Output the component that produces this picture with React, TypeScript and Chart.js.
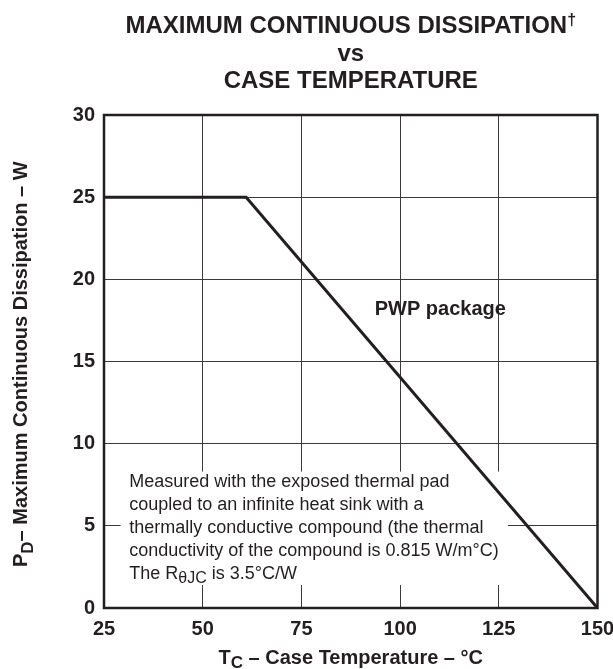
import React, { useEffect, useRef } from "react";
import { Chart, registerables } from "chart.js";

Chart.register(...registerables);

const caseTemps = [25, 61, 150];
const dissipation = [25, 25, 0];
const xTicks = [25, 50, 75, 100, 125, 150];
const yTicks = [0, 5, 10, 15, 20, 25, 30];
const titleLines = ["MAXIMUM CONTINUOUS DISSIPATION", "vs", "CASE TEMPERATURE"];
const noteLines = [
  "Measured with the exposed thermal pad",
  "coupled to an infinite heat sink with a",
  "thermally conductive compound (the thermal",
  "conductivity of the compound is 0.815 W/m°C)",
];
const seriesLabel = "PWP package";

const FAM = '"Liberation Sans", Arial, Helvetica, sans-serif';
const INK = "#231f20";

type Run = { t: string; f: string; dy?: number };

function drawRuns(ctx: CanvasRenderingContext2D, x: number, y: number, runs: Run[], align: "left" | "center") {
  let total = 0;
  for (const r of runs) {
    ctx.font = r.f;
    total += ctx.measureText(r.t).width;
  }
  let cx = align === "center" ? x - total / 2 : x;
  ctx.textAlign = "left";
  for (const r of runs) {
    ctx.font = r.f;
    ctx.fillText(r.t, cx, y + (r.dy || 0));
    cx += ctx.measureText(r.t).width;
  }
}

const noteBox = {
  id: "noteBox",
  beforeDatasetsDraw(chart: any) {
    const ctx: CanvasRenderingContext2D = chart.ctx;
    const xs = chart.scales.x;
    const ys = chart.scales.y;
    ctx.save();
    ctx.fillStyle = "#fff";
    const l = xs.getPixelForValue(29.2);
    const r = xs.getPixelForValue(127.3);
    const t = ys.getPixelForValue(8.3);
    const b = ys.getPixelForValue(1.4);
    ctx.fillRect(l, t, r - l, b - t);
    ctx.fillStyle = INK;
    ctx.textBaseline = "alphabetic";
    const nf = `18px ${FAM}`;
    const lx = xs.getPixelForValue(31.4);
    let ly = ys.getPixelForValue(7.38);
    ctx.textAlign = "left";
    for (const line of noteLines) {
      ctx.font = nf;
      ctx.fillText(line, lx, ly);
      ly += 23;
    }
    drawRuns(ctx, lx, ly, [
      { t: "The R", f: nf },
      { t: "θJC", f: `16px ${FAM}`, dy: 4 },
      { t: " is 3.5°C/W", f: nf },
    ], "left");
    ctx.restore();
  },
};

const overlay = {
  id: "overlay",
  afterDraw(chart: any) {
    const ctx: CanvasRenderingContext2D = chart.ctx;
    const a = chart.chartArea;
    const xs = chart.scales.x;
    const ys = chart.scales.y;
    ctx.save();
    ctx.strokeStyle = INK;
    ctx.lineWidth = 2.5;
    ctx.strokeRect(a.left, a.top, a.right - a.left, a.bottom - a.top);

    ctx.fillStyle = INK;
    ctx.textBaseline = "alphabetic";
    const cx = (a.left + a.right) / 2;
    const tf = `bold 24px ${FAM}`;
    drawRuns(ctx, cx, 33, [{ t: titleLines[0], f: tf }, { t: "†", f: `bold 16px ${FAM}`, dy: -8 }], "center");
    drawRuns(ctx, cx, 61, [{ t: titleLines[1], f: tf }], "center");
    drawRuns(ctx, cx, 88, [{ t: titleLines[2], f: tf }], "center");

    const af = `bold 20px ${FAM}`;
    const sf = `bold 17px ${FAM}`;
    drawRuns(ctx, cx, 664, [
      { t: "T", f: af },
      { t: "C", f: sf, dy: 4 },
      { t: " – Case Temperature – °C", f: af },
    ], "center");

    ctx.save();
    ctx.translate(27, 567);
    ctx.rotate(-Math.PI / 2);
    drawRuns(ctx, 0, 0, [
      { t: "P", f: af },
      { t: "D", f: sf, dy: 6 },
      { t: "– Maximum Continuous Dissipation – W", f: af },
    ], "left");
    ctx.restore();

    ctx.font = `bold 20px ${FAM}`;
    ctx.textAlign = "right";
    ctx.fillText(seriesLabel, xs.getPixelForValue(126.8), ys.getPixelForValue(17.83));
    ctx.restore();
  },
};

export default function App() {
  const ref = useRef<HTMLCanvasElement | null>(null);
  useEffect(() => {
    document.body.style.margin = "0";
    const canvas = ref.current!;
    const zeroPad = (s: any) => {
      s.paddingLeft = 0;
      s.paddingRight = 0;
      s.paddingTop = 0;
      s.paddingBottom = 0;
    };
    const chart = new Chart(canvas, {
      type: "scatter",
      data: {
        datasets: [
          {
            label: seriesLabel,
            data: caseTemps.map((x, i) => ({ x, y: dissipation[i] })),
            showLine: true,
            borderColor: INK,
            borderWidth: 3,
            pointRadius: 0,
            fill: false,
          },
        ],
      },
      options: {
        responsive: false,
        animation: false,
        layout: { padding: { left: 0, right: 15.5, top: 115, bottom: 0 } },
        plugins: { legend: { display: false }, tooltip: { enabled: false }, title: { display: false } },
        scales: {
          x: {
            type: "linear",
            min: 25,
            max: 150,
            afterFit: (s: any) => { s.height = 61; zeroPad(s); },
            afterBuildTicks: (s: any) => { s.ticks = xTicks.map((v) => ({ value: v })); },
            grid: { color: "#3a3a3a", lineWidth: 1, drawTicks: false },
            border: { display: false },
            ticks: { padding: 9, color: INK, font: { family: FAM, size: 20, weight: "bold" }, maxRotation: 0, autoSkip: false },
          },
          y: {
            type: "linear",
            min: 0,
            max: 30,
            afterFit: (s: any) => { s.width = 104; zeroPad(s); },
            afterBuildTicks: (s: any) => { s.ticks = yTicks.map((v) => ({ value: v })); },
            grid: { color: "#3a3a3a", lineWidth: 1, drawTicks: false },
            border: { display: false },
            ticks: { padding: 9, color: INK, font: { family: FAM, size: 20, weight: "bold" }, autoSkip: false },
          },
        },
      },
      plugins: [noteBox, overlay],
    } as any);
    return () => chart.destroy();
  }, []);
  return <canvas ref={ref} width={613} height={669} style={{ display: "block" }} />;
}
